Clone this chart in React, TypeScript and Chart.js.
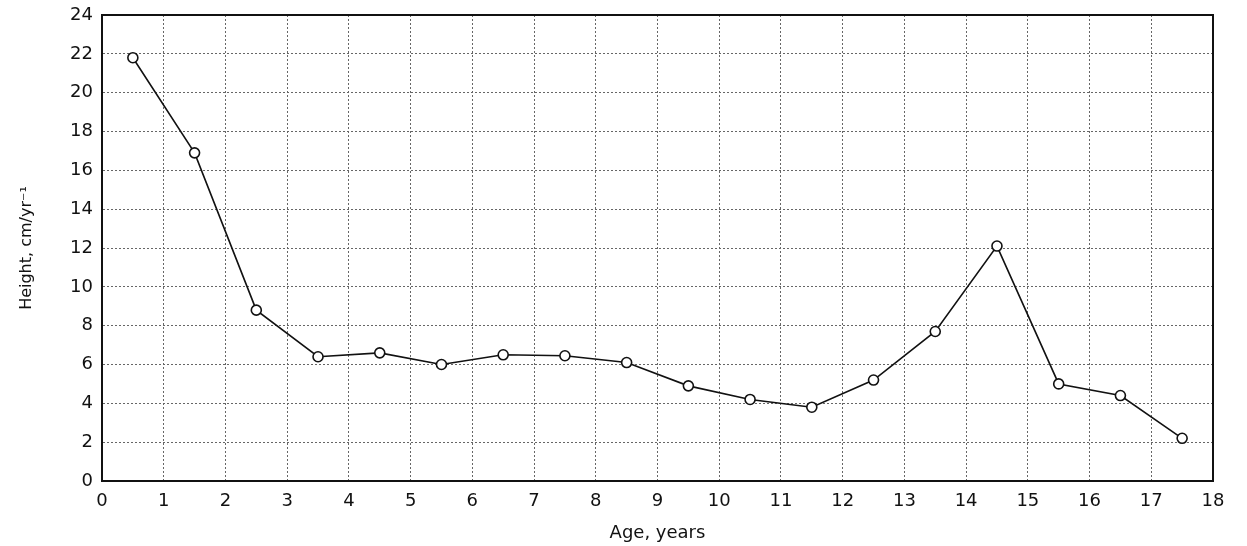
import React, { useEffect, useRef } from "react";
import { Chart, registerables } from "chart.js";

Chart.register(...registerables);

const ages = [0.5, 1.5, 2.5, 3.5, 4.5, 5.5, 6.5, 7.5, 8.5, 9.5, 10.5, 11.5, 12.5, 13.5, 14.5, 15.5, 16.5, 17.5];
const velocity = [21.8, 16.9, 8.8, 6.4, 6.6, 6.0, 6.5, 6.45, 6.1, 4.9, 4.2, 3.8, 5.2, 7.7, 12.1, 5.0, 4.4, 2.2];
const xTitle = "Age, years";
const yTitle = "Height, cm/yr\u207B\u00B9";

const FONT = "'DejaVu Sans', 'Liberation Sans', Arial, sans-serif";

const framePlugin = {
  id: "frame",
  afterDatasetsDraw(chart: any) {
    const { ctx, chartArea } = chart;
    ctx.save();
    ctx.strokeStyle = "#111";
    ctx.lineWidth = 2;
    ctx.strokeRect(chartArea.left, chartArea.top, chartArea.right - chartArea.left, chartArea.bottom - chartArea.top);
    ctx.restore();
  },
};

export default function App() {
  const ref = useRef<HTMLCanvasElement | null>(null);
  useEffect(() => {
    document.body.style.margin = "0";
    const data = ages.map((a, i) => ({ x: a, y: velocity[i] }));
    const chart = new Chart(ref.current as HTMLCanvasElement, {
      type: "line",
      data: {
        datasets: [
          {
            data,
            borderColor: "#111",
            borderWidth: 1.6,
            pointRadius: 5,
            pointBackgroundColor: "#fff",
            pointBorderColor: "#111",
            pointBorderWidth: 1.6,
            tension: 0,
          },
        ],
      },
      options: {
        animation: false,
        responsive: false,
        layout: { padding: { top: 15, right: 34, left: 0, bottom: 0 } },
        plugins: { legend: { display: false }, tooltip: { enabled: false } },
        scales: {
          x: {
            type: "linear",
            min: 0,
            max: 18,
            afterFit: (s: any) => { s.height = 65; s.paddingLeft = 0; s.paddingRight = 0; },
            ticks: { stepSize: 1, color: "#111", font: { family: FONT, size: 18 }, padding: 10, maxRotation: 0 },
            grid: { color: "#666", lineWidth: 1, drawTicks: false },
            border: { display: true, color: "#111", width: 2, dash: [2, 2] },
            title: { display: true, text: xTitle, color: "#111", font: { family: FONT, size: 18 }, padding: { top: 0, bottom: 2 } },
          },
          y: {
            type: "linear",
            min: 0,
            max: 24,
            afterFit: (s: any) => { s.width = 102; s.paddingTop = 0; s.paddingBottom = 0; },
            ticks: { stepSize: 2, color: "#111", font: { family: FONT, size: 18 }, padding: 9 },
            grid: { color: "#666", lineWidth: 1, drawTicks: false },
            border: { display: true, color: "#111", width: 2, dash: [2, 2] },
            title: { display: true, text: yTitle, color: "#111", font: { family: FONT, size: 16 }, padding: { top: 17, bottom: 0 } },
          },
        },
      },
      plugins: [framePlugin],
    } as any);
    return () => chart.destroy();
  }, []);
  return (
    <div style={{ position: "fixed", left: 0, top: 0, width: 1247, height: 546, background: "#fff" }}>
      <canvas ref={ref} width={1247} height={546} style={{ width: 1247, height: 546 }} />
    </div>
  );
}
